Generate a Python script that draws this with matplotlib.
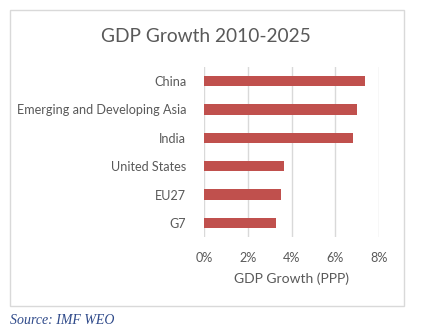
import matplotlib
matplotlib.use("Agg")
import matplotlib.pyplot as plt
from matplotlib.patches import Rectangle
from matplotlib.ticker import FuncFormatter

categories = ["China", "Emerging and Developing Asia", "India", "United States", "EU27", "G7"]
growth = [7.39, 7.0, 6.82, 3.67, 3.52, 3.30]
xticks = [0, 2, 4, 6, 8]

W, H = 427, 334
FONT = "Lato"
fig = plt.figure(figsize=(W / 100, H / 100), dpi=100)
fig.patch.set_facecolor("white")

# outer chart frame
fig.patches.append(Rectangle((10 / W, 1 - 306 / H), (404 - 10) / W, (306 - 10) / H,
                             transform=fig.transFigure, fill=False,
                             edgecolor="#d9d9d9", linewidth=1.0))

ax = fig.add_axes([204.3 / W, 1 - 237 / H, (378.7 - 204.3) / W, (237 - 67) / H])
y = list(range(len(categories)))[::-1]
ax.barh(y, growth, height=0.36, color="#c0504d", zorder=3)
ax.set_xlim(0, 8)
ax.set_ylim(-0.5, len(categories) - 0.5)
ax.set_xticks(xticks)
ax.xaxis.set_major_formatter(FuncFormatter(lambda v, p: f"{v:.0f}%"))
ax.set_yticks(y)
ax.set_yticklabels(categories)
ax.grid(axis="x", color="#d9d9d9", linewidth=1.0, zorder=0)
for s in ax.spines.values():
    s.set_visible(False)
ax.tick_params(length=0, colors="#595959", labelsize=9.1)
ax.tick_params(axis="x", pad=11)
ax.tick_params(axis="y", pad=13)
for lab in ax.get_xticklabels() + ax.get_yticklabels():
    lab.set_fontfamily(FONT)
ax.set_xlabel("GDP Growth (PPP)", color="#595959", fontsize=10, family=FONT, labelpad=6)

fig.text(206 / W, 1 - 36 / H, "GDP Growth 2010-2025", ha="center", va="center",
         color="#595959", fontsize=13.8, family=FONT)
fig.text(10 / W, 1 - 321 / H, "Source: IMF WEO", ha="left", va="center",
         color="#2f4a8a", fontsize=10, family="Liberation Serif", style="italic")

fig.savefig("out.png", dpi=100)
